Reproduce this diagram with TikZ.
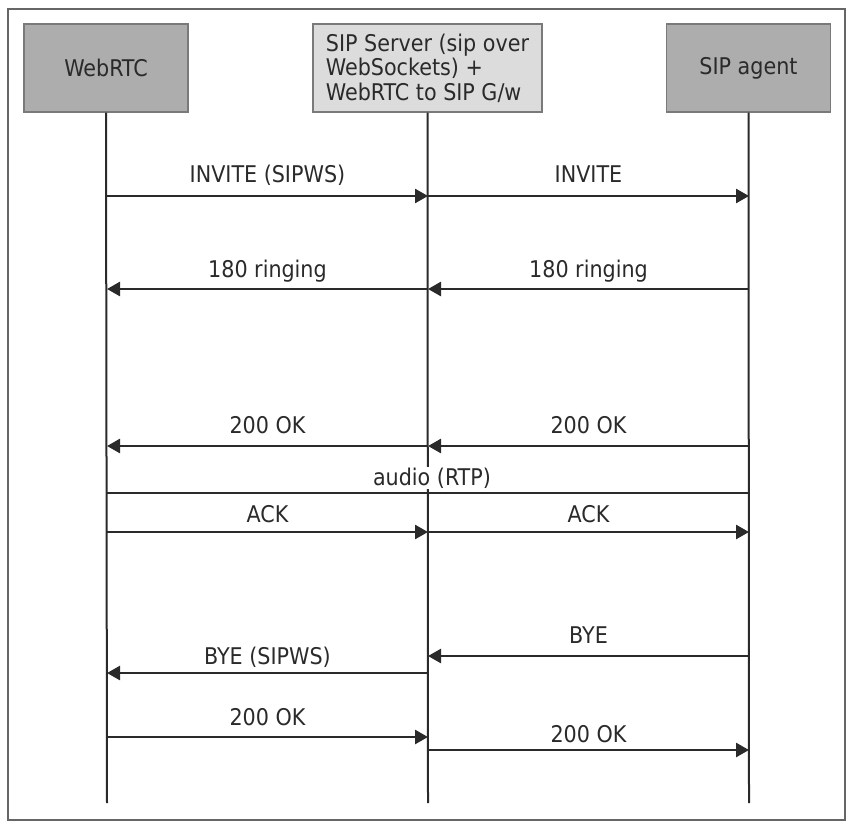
\documentclass[tikz,border=0pt]{standalone}
\usepackage{fontspec}
\setmainfont{DejaVu Sans Condensed}
\usetikzlibrary{arrows.meta}
\definecolor{linec}{HTML}{2A2A2A}
\definecolor{darkbox}{HTML}{ADADAD}
\definecolor{lightbox}{HTML}{DCDCDC}
\definecolor{boxline}{HTML}{7A7A7A}
\begin{document}
\begin{tikzpicture}[x=1pt,y=-1pt,
  every node/.style={font=\fontsize{23}{24.5}\selectfont, text=linec},
  actor/.style={draw=boxline, line width=1.2pt, minimum height=88pt, inner sep=0pt},
  life/.style={draw=linec, line width=2pt},
  msg/.style={draw=linec, line width=2.6pt, -{Triangle[length=13pt,width=14pt]}},
  lbl/.style={anchor=base, inner sep=0pt}
]
\useasboundingbox (0,0) rectangle (850,825);
\draw[draw=gray!80!black, line width=1.6pt] (8,9) rectangle (845,820);

\node[actor, fill=darkbox, minimum width=164pt] (web) at (106,68) {WebRTC};
\node[actor, fill=lightbox, minimum width=229pt, align=left] (srv) at (427.5,68) {SIP Server (sip over\\WebSockets) +\\WebRTC to SIP G/w};
\node[actor, fill=darkbox, minimum width=164pt] (sip) at (748.5,68) {SIP agent};

\coordinate (webend) at (107,803);
\coordinate (srvend) at (428,803);
\coordinate (sipend) at (749,803);

% message coordinates
\foreach \n/\y in {1/196,2/289,3/446,4/493,5/532,6/656,7/673,8/737,9/750}{
  \coordinate (w\n) at (107,\y);
  \coordinate (s\n) at (428,\y);
  \coordinate (a\n) at (749,\y);
}

\draw[life] (web.south) -- (webend);
\draw[life] (sip.south) -- (sipend);
\draw[life] (srv.south) -- (srvend);

\draw[msg] (w1) -- node[lbl, yshift=14pt] {INVITE (SIPWS)} (s1);
\draw[msg] (s1) -- node[lbl, yshift=14pt] {INVITE} (a1);
\draw[msg] (s2) -- node[lbl, yshift=12pt] {180 ringing} (w2);
\draw[msg] (a2) -- node[lbl, yshift=12pt] {180 ringing} (s2);
\draw[msg] (s3) -- node[lbl, yshift=13pt] {200 OK} (w3);
\draw[msg] (a3) -- node[lbl, yshift=13pt] {200 OK} (s3);
\draw[draw=linec, line width=2.8pt] (w4) -- (a4);
\node[fill=white, inner sep=1pt, anchor=base] (audio) at (432,485) {audio (RTP)};
\draw[msg] (w5) -- node[lbl, yshift=10pt] {ACK} (s5);
\draw[msg] (s5) -- node[lbl, yshift=10pt] {ACK} (a5);
\draw[msg] (a6) -- node[lbl, yshift=13pt] {BYE} (s6);
\draw[msg] (s7) -- node[lbl, yshift=9pt] {BYE (SIPWS)} (w7);
\draw[msg] (w8) -- node[lbl, yshift=12pt] {200 OK} (s8);
\draw[msg] (s9) -- node[lbl, yshift=8pt] {200 OK} (a9);
\end{tikzpicture}
\end{document}
